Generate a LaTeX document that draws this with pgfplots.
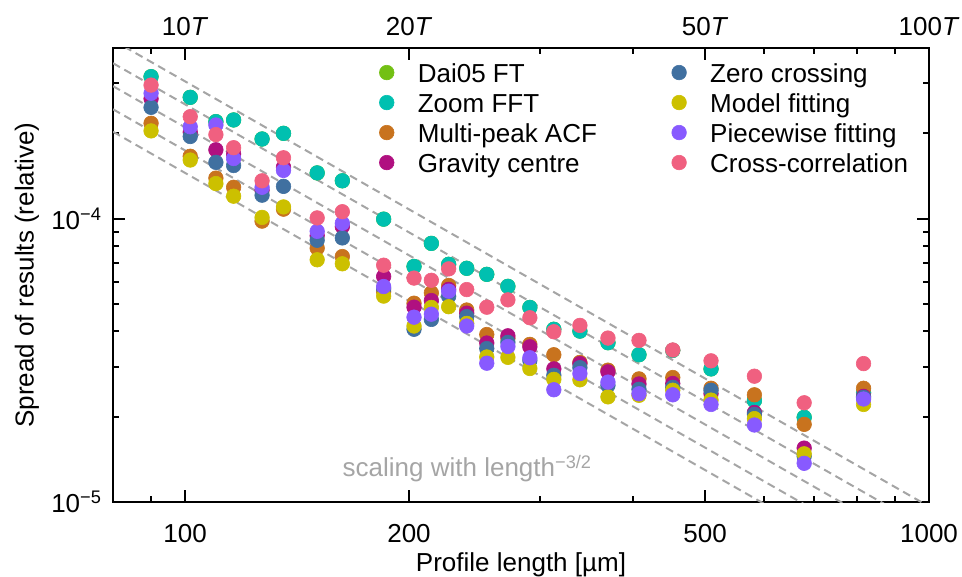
\documentclass[border=0pt]{standalone}
\usepackage{fontspec}
\setmainfont{Liberation Sans}
\usepackage{pgfplots}
\pgfplotsset{compat=1.18}
\usepackage{pgfplotstable}
\usetikzlibrary{calc}

\definecolor{cDai}{RGB}{115,192,20}
\definecolor{cZoom}{RGB}{0,192,176}
\definecolor{cAcf}{RGB}{200,115,30}
\definecolor{cGrav}{RGB}{176,16,128}
\definecolor{cZero}{RGB}{64,112,160}
\definecolor{cModel}{RGB}{204,192,0}
\definecolor{cPiece}{RGB}{136,90,255}
\definecolor{cCross}{RGB}{240,96,128}
\definecolor{cLine}{RGB}{165,165,165}

\pgfplotstableread{
L     dai       zoom      acf       grav      zero      model     piece     cross
90    3.17e-4   3.17e-4   2.17e-4   2.65e-4   2.47e-4   2.04e-4   2.77e-4   2.96e-4
101.6 2.68e-4   2.68e-4   1.66e-4   2.02e-4   1.95e-4   1.61e-4   2.11e-4   2.29e-4
110   2.20e-4   2.20e-4   1.39e-4   1.75e-4   1.58e-4   1.33e-4   2.14e-4   1.98e-4
116.2 2.23e-4   2.23e-4   1.29e-4   1.69e-4   1.54e-4   1.20e-4   1.63e-4   1.78e-4
126.9 1.91e-4   1.91e-4   0.98e-4   1.26e-4   1.21e-4   1.01e-4   1.29e-4   1.36e-4
135.6 2.00e-4   2.00e-4   1.08e-4   1.52e-4   1.30e-4   1.10e-4   1.48e-4   1.64e-4
150.5 1.45e-4   1.45e-4   0.787e-4  0.871e-4  0.839e-4  0.716e-4  0.902e-4  1.006e-4
162.7 1.36e-4   1.36e-4   0.735e-4  0.937e-4  0.855e-4  0.693e-4  0.963e-4  1.058e-4
184.9 0.996e-4  0.996e-4  0.553e-4  0.625e-4  0.567e-4  0.533e-4  0.576e-4  0.685e-4
203.1 0.678e-4  0.678e-4  0.503e-4  0.487e-4  0.407e-4  0.418e-4  0.449e-4  0.617e-4
214.3 0.818e-4  0.818e-4  0.547e-4  0.514e-4  0.441e-4  0.486e-4  0.460e-4  0.606e-4
226.1 0.690e-4  0.690e-4  0.581e-4  0.563e-4  0.532e-4  0.489e-4  0.555e-4  0.665e-4
239.1 0.668e-4  0.668e-4  0.476e-4  0.464e-4  0.451e-4  0.427e-4  0.418e-4  0.562e-4
254.4 0.636e-4  0.636e-4  0.390e-4  0.364e-4  0.348e-4  0.325e-4  0.309e-4  0.487e-4
271.6 0.577e-4  0.577e-4  0.378e-4  0.386e-4  0.366e-4  0.324e-4  0.354e-4  0.517e-4
290.7 0.486e-4  0.486e-4  0.360e-4  0.353e-4  0.316e-4  0.296e-4  0.323e-4  0.447e-4
313.1 0.407e-4  0.407e-4  0.331e-4  0.295e-4  0.280e-4  0.271e-4  0.249e-4  0.399e-4
339.4 0.401e-4  0.401e-4  0.311e-4  0.308e-4  0.298e-4  0.270e-4  0.284e-4  0.420e-4
370.2 0.365e-4  0.365e-4  0.292e-4  0.288e-4  0.258e-4  0.235e-4  0.265e-4  0.379e-4
407.5 0.331e-4  0.331e-4  0.272e-4  0.261e-4  0.250e-4  0.238e-4  0.241e-4  0.372e-4
452.4 0.343e-4  0.343e-4  0.275e-4  0.262e-4  0.254e-4  0.248e-4  0.239e-4  0.344e-4
509.3 0.295e-4  0.295e-4  0.252e-4  0.241e-4  0.248e-4  0.229e-4  0.221e-4  0.315e-4
582.5 0.228e-4  0.228e-4  0.239e-4  0.207e-4  0.204e-4  0.197e-4  0.187e-4  0.278e-4
679.5 0.199e-4  0.199e-4  0.188e-4  0.155e-4  0.145e-4  0.148e-4  0.137e-4  0.224e-4
816.6 0.243e-4  0.243e-4  0.252e-4  0.236e-4  0.234e-4  0.221e-4  0.231e-4  0.308e-4
}\data

\begin{document}
\fontsize{13pt}{15.6pt}\selectfont
\begin{tikzpicture}
\begin{axis}[name=main,
  scale only axis, width=408pt, height=227pt,
  xmode=log, ymode=log,
  xmin=80, xmax=1000, ymin=1e-5, ymax=4e-4,
  xtick={100,200,500,1000}, xticklabels={100,200,500,1000},
  minor xtick={80,90,300,400,600,700,800,900},
  ytick={1e-5,1e-4}, yticklabels={10\textsuperscript{−5},10\textsuperscript{−4}},
  minor ytick={2e-5,3e-5,4e-5,5e-5,6e-5,7e-5,8e-5,9e-5,2e-4,3e-4,4e-4},
  tick align=inside, major tick length=6pt, minor tick length=3pt,
  every tick/.style={black, line width=1pt},
  axis line style={line width=1.1pt},
  xticklabel style={anchor=base, yshift=-20pt},
  yticklabel style={anchor=east, xshift=-1pt},
  xlabel={Profile length [µm]},
  ylabel={Spread of results (relative)},
  every axis x label/.style={at={(axis description cs:0.5,-0.1535)}, anchor=base},
  every axis y label/.style={at={(axis description cs:-0.1054,0.5)}, rotate=90, anchor=center},
  legend columns=4, transpose legend, legend cell align=left,
  legend image code/.code={\draw[#1] plot coordinates {(0pt,0pt)};},
  legend style={draw=none, fill=none, at={(0.3265,0.979)}, anchor=north west,
    inner sep=0pt, outer sep=0pt, row sep=0pt,
    nodes={inner xsep=2pt, inner ysep=1.8pt, text height=10.6pt, text depth=0.8pt},
    /tikz/every odd column/.append style={column sep=9.9pt},
    /tikz/every even column/.append style={column sep=35.4pt}},
  only marks, mark=*, mark size=3.65pt,
]
\addplot[cLine, line width=1pt, dash pattern=on 4pt off 2.5pt, forget plot, mark=none, sharp plot] coordinates {(80,4.263e-4) (1000,9.645e-6)};
\addplot[cLine, line width=1pt, dash pattern=on 4pt off 2.5pt, forget plot, mark=none, sharp plot] coordinates {(80,3.536e-4) (1000,8.0e-6)};
\addplot[cLine, line width=1pt, dash pattern=on 4pt off 2.5pt, forget plot, mark=none, sharp plot] coordinates {(80,2.935e-4) (1000,6.641e-6)};
\addplot[cLine, line width=1pt, dash pattern=on 4pt off 2.5pt, forget plot, mark=none, sharp plot] coordinates {(80,2.432e-4) (1000,5.502e-6)};
\addplot[cLine, line width=1pt, dash pattern=on 4pt off 2.5pt, forget plot, mark=none, sharp plot] coordinates {(80,2.026e-4) (1000,4.585e-6)};

\addplot[only marks, mark=*, color=cDai, mark options={line width=0.3pt}] table[x=L, y=dai] {\data};
\addlegendentry{Dai05 FT}
\addplot[only marks, mark=*, color=cZoom, mark options={line width=0.3pt}] table[x=L, y=zoom] {\data};
\addlegendentry{Zoom FFT}
\addplot[only marks, mark=*, color=cAcf, mark options={line width=0.3pt}] table[x=L, y=acf] {\data};
\addlegendentry{Multi-peak ACF}
\addplot[only marks, mark=*, color=cGrav, mark options={line width=0.3pt}] table[x=L, y=grav] {\data};
\addlegendentry{Gravity centre}
\addplot[only marks, mark=*, color=cZero, mark options={line width=0.3pt}] table[x=L, y=zero] {\data};
\addlegendentry{Zero crossing}
\addplot[only marks, mark=*, color=cModel, mark options={line width=0.3pt}] table[x=L, y=model] {\data};
\addlegendentry{Model fitting}
\addplot[only marks, mark=*, color=cPiece, mark options={line width=0.3pt}] table[x=L, y=piece] {\data};
\addlegendentry{Piecewise fitting}
\addplot[only marks, mark=*, color=cCross, mark options={line width=0.3pt}] table[x=L, y=cross] {\data};
\addlegendentry{Cross-correlation}

\node[anchor=base west, text=cLine, inner sep=0pt] at (axis cs:162.7,1.228e-5) {scaling with length\textsuperscript{−3/2}};
\end{axis}
\begin{axis}[
  scale only axis, width=408pt, height=227pt,
  xmode=log, ymode=log,
  xmin=80, xmax=1000, ymin=1e-5, ymax=4e-4,
  axis x line*=top, hide y axis,
  axis line style={draw=none},
  xtick={100,200,500,1000},
  xticklabels={10\textit{T},20\textit{T},50\textit{T},100\textit{T}},
  minor xtick={}, major tick length=0pt,
  xticklabel style={anchor=base, yshift=6.5pt},
]
\end{axis}
\pgfresetboundingbox
\useasboundingbox ([shift={(-56.5pt,-37pt)}]main.south west) rectangle ([shift={(16.5pt,24pt)}]main.north east);
\end{tikzpicture}
\end{document}
